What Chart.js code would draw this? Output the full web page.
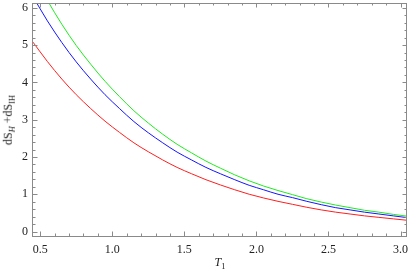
<!DOCTYPE html>
<html>
<head>
<meta charset="utf-8">
<script src="https://cdn.jsdelivr.net/npm/chart.js@4"></script>
<style>
    html, body { margin: 0; padding: 0; background: #fff; }
    #wrap { position: relative; width: 409px; height: 277px; }
    .axis-title {
        position: absolute;
        font-family: "Liberation Serif", "DejaVu Serif", serif;
        font-size: 12px;
        color: #222;
        white-space: nowrap;
        line-height: 1;
    }
    .axis-title sub { font-size: 8.5px; vertical-align: -3px; }
    #xTitle { left: 220px; top: 256px; transform: translateX(-50%); }
    #yTitle { left: 9px; top: 120px; transform: translate(-50%, -50%) rotate(-90deg); }
</style>
</head>
<body>
<div id="wrap">
    <canvas id="entropyChart" width="409" height="277"></canvas>
    <div class="axis-title" id="xTitle"><i>T</i><sub>1</sub></div>
    <div class="axis-title" id="yTitle">dS<sub><i>H</i></sub> +dS<sub>IH</sub></div>
</div>
<script>
// T1 sample points and curve values
const tValues = [0.45, 0.55, 0.65, 0.75, 0.85, 0.95, 1.05, 1.15, 1.25, 1.35, 1.45, 1.55, 1.65, 1.75,
    1.85, 1.95, 2.05, 2.15, 2.25, 2.35, 2.45, 2.55, 2.65, 2.75, 2.85, 2.95, 3.05];
const redValues = [5.08, 4.56, 4.09, 3.67, 3.30, 2.96, 2.66, 2.38, 2.14, 1.92, 1.72, 1.55, 1.39, 1.25,
    1.12, 1.00, 0.90, 0.81, 0.73, 0.65, 0.58, 0.52, 0.47, 0.42, 0.38, 0.34, 0.30];
const blueValues = [6.30, 5.65, 5.07, 4.55, 4.09, 3.67, 3.30, 2.95, 2.65, 2.38, 2.13, 1.92, 1.72, 1.55,
    1.39, 1.24, 1.12, 1.00, 0.91, 0.81, 0.72, 0.64, 0.58, 0.52, 0.47, 0.42, 0.37];
const greenValues = [6.91, 6.20, 5.56, 4.99, 4.49, 4.03, 3.62, 3.24, 2.91, 2.61, 2.34, 2.11, 1.89, 1.70,
    1.52, 1.36, 1.22, 1.10, 0.99, 0.88, 0.79, 0.71, 0.64, 0.57, 0.52, 0.46, 0.41];

// axis ranges and tick steps
const xRange = [0.45, 3.045];
const yRange = [-0.12, 6.13];
const xMajorStep = 0.5;
const yMajorStep = 1;

function toPoints(values) {
    return tValues.map((t, i) => ({ x: t, y: values[i] }));
}

// Mathematica-style frame with inward ticks on all four sides
const frameTicks = {
    id: 'frameTicks',
    afterDatasetsDraw(chart) {
        const { ctx, chartArea: a, scales: { x, y } } = chart;
        ctx.save();
        ctx.strokeStyle = '#8a8a8a';
        ctx.lineWidth = 1;
        ctx.beginPath();
        // x ticks every 0.1, major every 0.5
        for (let k = 5; k <= 30; k++) {
            const px = Math.round(x.getPixelForValue(k / 10)) + 0.5;
            const len = k % 5 === 0 ? 4.5 : 2.5;
            ctx.moveTo(px, a.bottom); ctx.lineTo(px, a.bottom - len);
            ctx.moveTo(px, a.top); ctx.lineTo(px, a.top + len);
        }
        // y ticks every 0.2, major every 1
        for (let k = 0; k <= 30; k++) {
            const py = Math.round(y.getPixelForValue(k / 5)) + 0.5;
            const len = k % 5 === 0 ? 4.5 : 2.5;
            ctx.moveTo(a.left, py); ctx.lineTo(a.left + len, py);
            ctx.moveTo(a.right, py); ctx.lineTo(a.right - len, py);
        }
        ctx.stroke();
        ctx.strokeRect(a.left - 0.5, a.top + 0.5, a.right - a.left, a.bottom - a.top);
        ctx.restore();
    }
};

const lineStyle = {
    borderWidth: 1,
    pointRadius: 0,
    fill: false,
    cubicInterpolationMode: 'monotone'
};

const ctx = document.getElementById('entropyChart').getContext('2d');
new Chart(ctx, {
    type: 'line',
    data: {
        datasets: [
            { ...lineStyle, label: 'red', data: toPoints(redValues), borderColor: 'rgb(255, 30, 30)' },
            { ...lineStyle, label: 'blue', data: toPoints(blueValues), borderColor: 'rgb(20, 20, 255)' },
            { ...lineStyle, label: 'green', data: toPoints(greenValues), borderColor: 'rgb(30, 235, 30)' }
        ]
    },
    options: {
        responsive: false,
        animation: false,
        layout: { padding: { top: 3, right: 2, left: 0, bottom: 0 } },
        plugins: {
            legend: { display: false },
            tooltip: { enabled: false }
        },
        scales: {
            x: {
                type: 'linear',
                min: xRange[0],
                max: xRange[1],
                grid: { display: false, drawTicks: false },
                border: { display: false },
                ticks: {
                    stepSize: xMajorStep,
                    includeBounds: false,
                    padding: 7,
                    color: '#222',
                    font: { family: '"Liberation Serif", serif', size: 12 },
                    maxRotation: 0,
                    callback: v => v.toFixed(1)
                },
                afterFit(scale) {
                    scale.height = 41;
                    scale.paddingLeft = 0;
                    scale.paddingRight = 0;
                }
            },
            y: {
                min: yRange[0],
                max: yRange[1],
                grid: { display: false, drawTicks: false },
                border: { display: false },
                ticks: {
                    stepSize: yMajorStep,
                    includeBounds: false,
                    padding: 5,
                    color: '#222',
                    font: { family: '"Liberation Serif", serif', size: 12 },
                    callback: v => String(v)
                },
                afterFit(scale) {
                    scale.width = 33;
                    scale.paddingTop = 0;
                    scale.paddingBottom = 0;
                }
            }
        }
    },
    plugins: [frameTicks]
});
</script>
</body>
</html>
